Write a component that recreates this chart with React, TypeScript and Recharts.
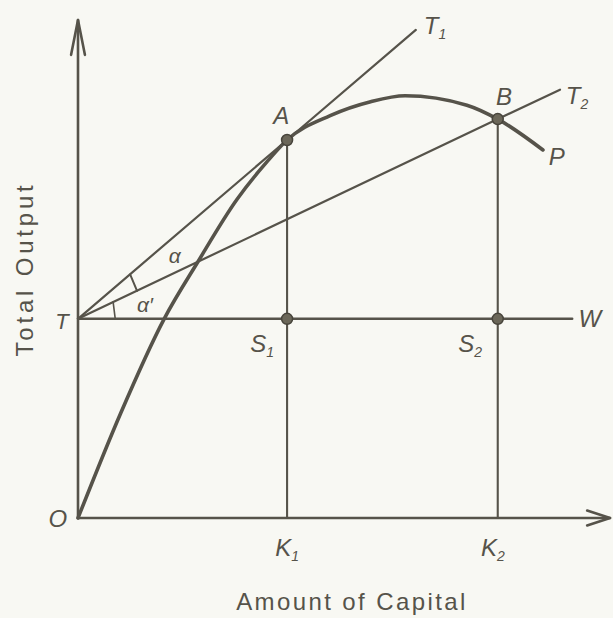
import { ComposedChart, Line, XAxis, YAxis, Scatter, ReferenceDot } from "recharts"

const INK = "#56534a"
const PAPER = "#f8f8f3"
const FONT = '"Liberation Sans", Arial, sans-serif'

// total output curve: capital (K) vs output (Q)
const curveK = [0, 0.8, 1.62, 2.24, 2.99, 3.55, 3.93, 4.74, 5.5, 6.15, 7.31, 7.89, 8.74]
const curveQ = [0, 2.1, 4.0, 5.12, 6.4, 7.15, 7.59, 8.08, 8.36, 8.48, 8.29, 8.01, 7.39]

// key levels
const tLevel = 4
const kA = 3.93
const kB = 7.89
const qA = 7.59
const qB = 8.01
const t1End = { x: 6.35, y: 9.8 }
const t2End = { x: 9.06, y: 8.6 }
const wEnd = 9.29

const curve = curveK.map((k, i) => ({ x: k, y: curveQ[i] }))
const tangentT1 = [{ x: 0, y: tLevel }, { x: kA, y: qA }, t1End]
const tangentT2 = [{ x: 0, y: tLevel }, { x: kB, y: qB }, t2End]
const lineTW = [{ x: 0, y: tLevel }, { x: wEnd, y: tLevel }]
const dropK1 = [{ x: kA, y: 0 }, { x: kA, y: qA }]
const dropK2 = [{ x: kB, y: 0 }, { x: kB, y: qB }]
const yAxisLine = [{ x: 0, y: 0 }, { x: 0, y: 10 }]
const xAxisLine = [{ x: 0, y: 0 }, { x: 10, y: 0 }]
const yArrow = [{ x: -0.13, y: 9.3 }, { x: 0, y: 10 }, { x: 0.13, y: 9.3 }]
const xArrow = [{ x: 9.57, y: 0.15 }, { x: 10, y: 0 }, { x: 9.57, y: -0.15 }]
const markAlpha = [{ x: 0.98, y: 4.89 }, { x: 1.11, y: 4.56 }]
const markAlphaP = [{ x: 0.66, y: 4.34 }, { x: 0.7, y: 4.0 }]

const points = [
  { x: kA, y: qA },
  { x: kB, y: qB },
  { x: kA, y: tLevel },
  { x: kB, y: tLevel },
]

const labels = [
  { text: "T", sub: "1", x: 6.5, y: 9.72, anchor: "start" },
  { text: "A", x: 3.82, y: 7.91 },
  { text: "B", x: 8.01, y: 8.29 },
  { text: "T", sub: "2", x: 9.17, y: 8.31, anchor: "start" },
  { text: "P", x: 9.0, y: 7.09 },
  { text: "α", x: 1.82, y: 5.12, size: 21 },
  { text: "α′", x: 1.26, y: 4.14, size: 21 },
  { text: "T", x: -0.3, y: 3.8, size: 22 },
  { text: "W", x: 9.62, y: 3.84 },
  { text: "S", sub: "1", x: 3.46, y: 3.33 },
  { text: "S", sub: "2", x: 7.37, y: 3.33 },
  { text: "O", x: -0.38, y: -0.18 },
  { text: "K", sub: "1", x: 3.93, y: -0.76 },
  { text: "K", sub: "2", x: 7.8, y: -0.76 },
]

type Tag = { text: string; sub?: string; x: number; y: number; anchor?: string; size?: number }

function renderTag(tag: Tag) {
  return (p: any) => (
    <text
      x={p.cx}
      y={p.cy}
      textAnchor={tag.anchor ?? "middle"}
      fontFamily={FONT}
      fontStyle="italic"
      fontSize={tag.size ?? 24}
      fill={INK}
    >
      {tag.text}
      {tag.sub && (
        <tspan fontSize={14} dy={5}>
          {tag.sub}
        </tspan>
      )}
    </text>
  )
}

function seg(data: { x: number; y: number }[], w: number, key: string, type: any = "linear") {
  return (
    <Line
      key={key}
      data={data}
      dataKey="y"
      type={type}
      stroke={INK}
      strokeWidth={w}
      strokeLinecap="round"
      strokeLinejoin="round"
      dot={false}
      activeDot={false}
      isAnimationActive={false}
    />
  )
}

export default function App() {
  return (
    <div style={{ position: "absolute", left: 0, top: 0, width: 613, height: 618, background: PAPER }}>
      <ComposedChart width={613} height={618} margin={{ top: 20, right: 3, left: 24.8, bottom: 50.2 }}>
        <XAxis type="number" dataKey="x" domain={[-1, 10]} hide />
        <YAxis type="number" domain={[-1, 10]} hide />
        {seg(yAxisLine, 2.6, "ya")}
        {seg(xAxisLine, 2.6, "xa")}
        {seg(yArrow, 2.6, "yarr")}
        {seg(xArrow, 2.6, "xarr")}
        {seg(lineTW, 2.4, "tw")}
        {seg(dropK1, 2.1, "k1")}
        {seg(dropK2, 2.1, "k2")}
        {seg(tangentT1, 2.2, "t1")}
        {seg(tangentT2, 2.2, "t2")}
        {seg(markAlpha, 2, "ma")}
        {seg(markAlphaP, 1.6, "map")}
        {seg(curve, 3.6, "curve", "monotone")}
        <Scatter
          data={points}
          dataKey="y"
          isAnimationActive={false}
          shape={(p: any) => (
            <circle cx={p.cx} cy={p.cy} r={5.5} fill="#6b6759" stroke="#47443b" strokeWidth={1.5} />
          )}
        />
        {labels.map((t, i) => (
          <ReferenceDot key={i} x={t.x} y={t.y} r={0} ifOverflow="visible" shape={renderTag(t)} />
        ))}
        <ReferenceDot
          x={-0.85}
          y={5}
          r={0}
          ifOverflow="visible"
          shape={(p: any) => (
            <text
              x={p.cx}
              y={p.cy}
              transform={`rotate(-90, ${p.cx}, ${p.cy})`}
              textAnchor="middle"
              fontFamily={FONT}
              fontSize={24}
              letterSpacing={3.8}
              fill={INK}
            >
              Total Output
            </text>
          )}
        />
        <ReferenceDot
          x={5.15}
          y={-1.85}
          r={0}
          ifOverflow="visible"
          shape={(p: any) => (
            <text
              x={p.cx}
              y={p.cy}
              textAnchor="middle"
              fontFamily={FONT}
              fontSize={24}
              letterSpacing={2.4}
              fill={INK}
            >
              Amount of Capital
            </text>
          )}
        />
      </ComposedChart>
    </div>
  )
}
